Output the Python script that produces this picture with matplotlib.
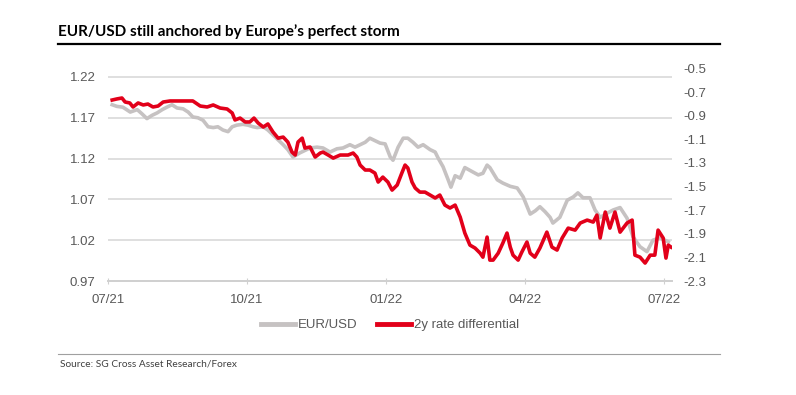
import numpy as np
import matplotlib
matplotlib.use('Agg')
import matplotlib.pyplot as plt

# |~~~~~~~~~~~~| Daten (x = Monate seit 07/21) |~~~~~~~~~~~|
eurusd_m = [0.09, 0.19, 0.32, 0.48, 0.63, 0.73, 0.84, 0.95, 1.06, 1.17,
            1.27, 1.38, 1.49, 1.62, 1.73, 1.83, 1.94, 2.05, 2.16, 2.27,
            2.37, 2.48, 2.59, 2.68, 2.78, 2.91, 3.02, 3.13, 3.22, 3.35,
            3.45, 3.56, 3.67, 3.78, 3.88, 3.99, 4.14, 4.36, 4.51, 4.64,
            4.79, 4.94, 5.07, 5.22, 5.33, 5.44, 5.55, 5.65, 5.76, 5.87,
            5.98, 6.09, 6.15, 6.26, 6.37, 6.47, 6.58, 6.69, 6.80, 6.95,
            7.06, 7.12, 7.23, 7.34, 7.40, 7.49, 7.60, 7.70, 7.86, 7.99,
            8.09, 8.18, 8.24, 8.40, 8.52, 8.68, 8.83, 8.96, 9.11, 9.22,
            9.32, 9.43, 9.54, 9.60, 9.75, 9.91, 10.04, 10.14, 10.25, 10.40,
            10.51, 10.62, 10.77, 10.90, 11.05, 11.20, 11.33, 11.48, 11.63, 11.76,
            11.91, 12.09]
eurusd = [1.186, 1.184, 1.183, 1.177, 1.180, 1.175, 1.169, 1.173, 1.176, 1.180,
          1.183, 1.186, 1.182, 1.181, 1.177, 1.171, 1.170, 1.167, 1.159, 1.158,
          1.159, 1.155, 1.153, 1.159, 1.161, 1.162, 1.161, 1.159, 1.158, 1.159,
          1.155, 1.149, 1.143, 1.137, 1.131, 1.122, 1.127, 1.133, 1.134, 1.133,
          1.128, 1.132, 1.133, 1.137, 1.134, 1.137, 1.140, 1.145, 1.142, 1.139,
          1.138, 1.122, 1.118, 1.134, 1.145, 1.145, 1.140, 1.134, 1.137, 1.131,
          1.128, 1.121, 1.110, 1.094, 1.085, 1.099, 1.096, 1.109, 1.104, 1.100,
          1.102, 1.112, 1.109, 1.094, 1.090, 1.086, 1.084, 1.073, 1.052, 1.056,
          1.061, 1.055, 1.048, 1.041, 1.048, 1.069, 1.073, 1.078, 1.072, 1.072,
          1.057, 1.048, 1.053, 1.057, 1.060, 1.047, 1.024, 1.012, 1.006, 1.020,
          1.023, 1.018]

diff_m = [0.09, 0.19, 0.30, 0.37, 0.47, 0.54, 0.65, 0.76, 0.86, 0.97,
          1.08, 1.19, 1.34, 1.55, 1.70, 1.83, 1.99, 2.14, 2.27, 2.42,
          2.57, 2.68, 2.74, 2.85, 2.96, 3.06, 3.15, 3.24, 3.35, 3.45,
          3.56, 3.67, 3.78, 3.88, 3.97, 4.04, 4.10, 4.19, 4.25, 4.36,
          4.47, 4.58, 4.64, 4.75, 4.86, 5.01, 5.18, 5.29, 5.37, 5.44,
          5.55, 5.65, 5.76, 5.83, 5.93, 6.04, 6.13, 6.24, 6.34, 6.41,
          6.47, 6.56, 6.63, 6.73, 6.84, 6.95, 7.06, 7.16, 7.27, 7.38,
          7.49, 7.60, 7.70, 7.81, 7.92, 8.03, 8.09, 8.18, 8.24, 8.31,
          8.42, 8.52, 8.61, 8.68, 8.74, 8.85, 8.93, 9.04, 9.11, 9.21,
          9.32, 9.47, 9.58, 9.69, 9.80, 9.93, 10.08, 10.19, 10.34, 10.47,
          10.55, 10.62, 10.73, 10.83, 10.94, 11.05, 11.20, 11.31, 11.37, 11.48,
          11.59, 11.70, 11.80, 11.87, 11.98, 12.04, 12.09, 12.15]
diff_2y = [-0.767, -0.758, -0.750, -0.784, -0.792, -0.826, -0.792, -0.809, -0.801, -0.826,
           -0.818, -0.784, -0.775, -0.775, -0.775, -0.775, -0.818, -0.826, -0.809, -0.835,
           -0.843, -0.877, -0.936, -0.920, -0.953, -0.953, -0.920, -0.962, -0.996, -0.970,
           -1.038, -1.090, -1.081, -1.123, -1.208, -1.233, -1.123, -1.090, -1.174, -1.165,
           -1.250, -1.216, -1.208, -1.233, -1.259, -1.233, -1.233, -1.216, -1.250, -1.318,
           -1.360, -1.360, -1.386, -1.462, -1.420, -1.462, -1.530, -1.487, -1.386, -1.318,
           -1.343, -1.462, -1.513, -1.547, -1.547, -1.572, -1.597, -1.572, -1.657, -1.682,
           -1.657, -1.759, -1.894, -1.996, -2.021, -2.064, -2.098, -1.928, -2.123, -2.123,
           -2.064, -1.979, -1.894, -2.013, -2.081, -2.123, -2.055, -1.970, -2.064, -2.098,
           -2.021, -1.886, -2.013, -2.038, -1.936, -1.852, -1.869, -1.809, -1.784, -1.801,
           -1.742, -1.936, -1.716, -1.852, -1.716, -1.886, -1.809, -1.784, -2.081, -2.098,
           -2.148, -2.081, -2.081, -1.869, -1.936, -2.106, -1.996, -2.013]

x_ticks = [0, 3, 6, 9, 12]
x_labels = ['07/21', '10/21', '01/22', '04/22', '07/22']
left_ticks = [0.97, 1.02, 1.07, 1.12, 1.17, 1.22]
right_ticks = [-2.3, -2.1, -1.9, -1.7, -1.5, -1.3, -1.1, -0.9, -0.7, -0.5]

# |~~~~~~~~~~~~| Darstellung |~~~~~~~~~~~|
grey = '#c6c2c2'
red = '#e2001a'
txt = '#595959'
plt.rcParams['font.family'] = ['Liberation Sans', 'DejaVu Sans']

fig = plt.figure(figsize=(7.96, 3.95), dpi=100)
ax = fig.add_axes([0.1357, 0.2886, 0.7085, 0.538])
ax2 = ax.twinx()

ax.plot(eurusd_m, eurusd, color=grey, lw=2.6, solid_joinstyle='round')
ax2.plot(diff_m, diff_2y, color=red, lw=2.6, solid_joinstyle='round')

ax.set_xlim(0, 12.17)
ax.set_ylim(0.97, 1.2304)
ax2.set_ylim(-2.3, -0.5)

ax.set_yticks(left_ticks)
ax.set_yticklabels([f'{v:.2f}' for v in left_ticks])
ax2.set_yticks(right_ticks)
ax2.set_yticklabels([f'{v:.1f}' for v in right_ticks])
ax.set_xticks(x_ticks)
ax.set_xticklabels(x_labels)

ax.grid(axis='y', color='#dcdcdc', lw=1.3)
ax.set_axisbelow(True)
for a in (ax, ax2):
    for s in ('top', 'left', 'right'):
        a.spines[s].set_visible(False)
    a.spines['bottom'].set_color('#d0d0d0')
    a.spines['bottom'].set_linewidth(1.3)
ax.tick_params(axis='y', length=0, labelsize=9.5, labelcolor=txt, pad=9)
ax2.tick_params(axis='y', length=0, labelsize=9.5, labelcolor=txt, pad=8)
ax.tick_params(axis='x', direction='inout', length=4, color='#d0d0d0',
               labelsize=9.5, labelcolor=txt, pad=7)

# Legende
h1, = ax.plot([], [], color=grey, lw=3.5, label='EUR/USD')
h2, = ax.plot([], [], color=red, lw=3.5, label='2y rate differential')
fig.legend(handles=[h1, h2], loc='center', bbox_to_anchor=(0.49, 0.177), ncol=2,
           frameon=False, fontsize=9.5, labelcolor=txt, handlelength=2.6,
           handletextpad=0.2, columnspacing=1.5)

# Titel, Linien, Quelle
fig.text(0.073, 0.919, 'EUR/USD still anchored by Europe\u2019s perfect storm',
         fontsize=11, fontweight='bold', family=['Lato', 'DejaVu Sans'],
         va='center', ha='left', color='black')
fig.add_artist(plt.Line2D([0.073, 0.905], [0.888, 0.888], color='black', lw=1.6))
fig.add_artist(plt.Line2D([0.073, 0.905], [0.104, 0.104], color='#a0a0a0', lw=0.8))
fig.text(0.075, 0.078, 'Source: SG Cross Asset Research/Forex', fontsize=7.3,
         family=['Lato', 'DejaVu Sans'], va='center', ha='left', color='#404040')

fig.savefig('out.png', dpi=100)
